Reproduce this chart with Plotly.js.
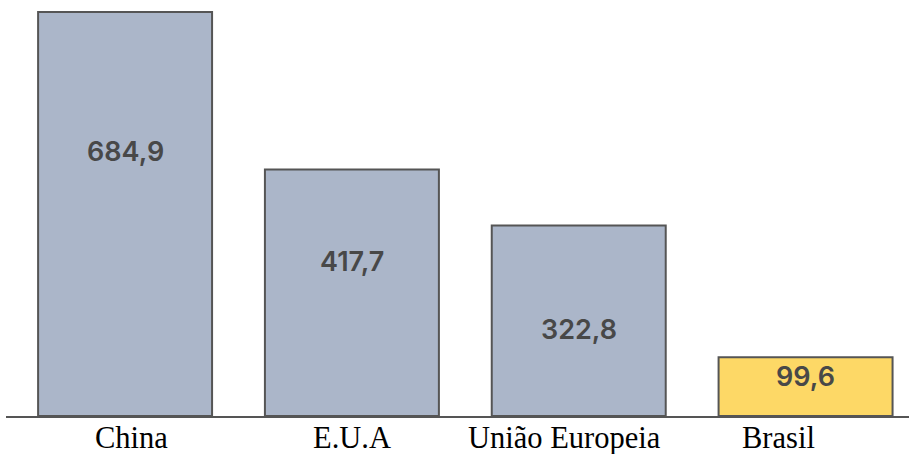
<!DOCTYPE html>
<html>
<head>
<meta charset="utf-8">
<script src="https://cdn.plot.ly/plotly-3.0.1.min.js"></script>
<style>
  html, body { margin: 0; padding: 0; background: #fff; }
  #chart { width: 909px; height: 454px; }
</style>
</head>
<body>
<div id="chart"></div>
<script>
// Values per region
const categories = ["China", "E.U.A", "União Europeia", "Brasil"];
const values = [684.9, 417.7, 322.8, 99.6];
const valueLabels = ["684,9", "417,7", "322,8", "99,6"];

// Styling
const barColors = ["#abb6c9", "#abb6c9", "#abb6c9", "#fdd866"];
const labelDrop = [140, 92, 104, 19];      // px below the bar top for each value label
const categoryShift = [6, 0, -14, -27];    // horizontal nudge for each category label

const trace = {
  type: "bar",
  x: categories,
  y: values,
  marker: {
    color: barColors,
    line: { color: "#555555", width: 2 }
  },
  hoverinfo: "none"
};

const annotations = [];
categories.forEach((c, i) => {
  annotations.push({
    x: c, y: values[i], xref: "x", yref: "y",
    text: valueLabels[i],
    showarrow: false,
    yanchor: "middle",
    yshift: -labelDrop[i],
    font: { family: "Inter, Roboto, sans-serif", size: 27, color: "#484848", weight: 600 }
  });
  annotations.push({
    x: c, y: 0, xref: "x", yref: "paper",
    text: c,
    showarrow: false,
    yanchor: "top",
    yshift: -3,
    xshift: categoryShift[i],
    font: { family: "Liberation Serif, Times New Roman, serif", size: 30.5, color: "#000000" }
  });
});

const layout = {
  width: 909,
  height: 454,
  margin: { l: 6, r: 0, t: 0, b: 38 },
  paper_bgcolor: "#ffffff",
  plot_bgcolor: "#ffffff",
  bargap: 0.233,
  showlegend: false,
  xaxis: {
    type: "category",
    range: [-0.525, 3.456],
    showticklabels: false,
    ticks: "",
    showgrid: false,
    zeroline: false,
    showline: true,
    linecolor: "#555555",
    linewidth: 2
  },
  yaxis: {
    range: [0, 705.2],
    visible: false,
    showgrid: false,
    zeroline: false
  },
  annotations: annotations
};

Plotly.newPlot("chart", [trace], layout, { staticPlot: true, displayModeBar: false });
</script>
</body>
</html>
